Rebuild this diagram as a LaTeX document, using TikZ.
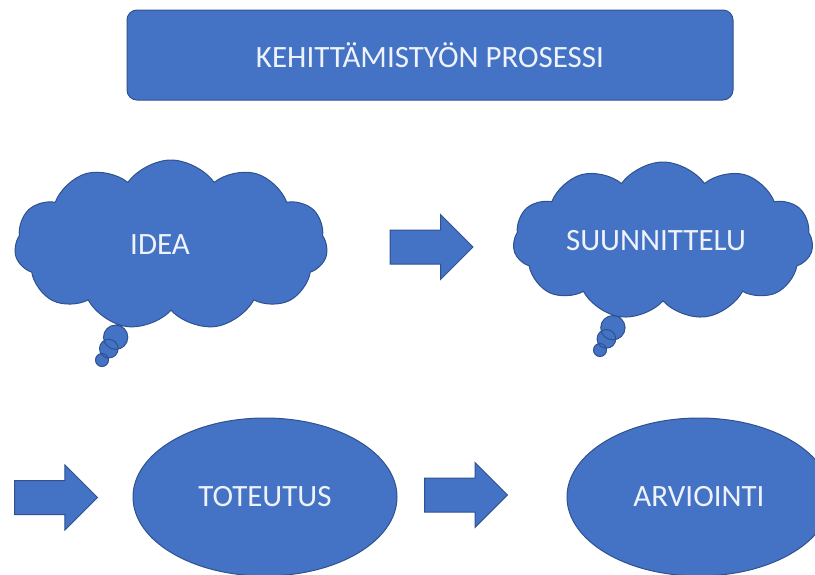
\documentclass[tikz,border=0pt]{standalone}
\usepackage{fontspec}
\setmainfont{Carlito}
\usetikzlibrary{shapes.symbols,shapes.callouts,shapes.arrows,shapes.geometric}
\definecolor{officeblue}{HTML}{4472C4}
\definecolor{officeline}{HTML}{2F528F}
\definecolor{lighttext}{HTML}{EEF3FB}
\tikzset{
  blueshape/.style={fill=officeblue, draw=officeline, line width=1pt, text=lighttext,
    font=\fontsize{31}{36}\selectfont},
  titlebox/.style={blueshape, rectangle, rounded corners=10pt},
  thought/.style={blueshape, cloud callout, cloud puffs=11, cloud puff arc=110,
    cloud ignores aspect, inner sep=0pt,
    callout pointer segments=3, callout pointer start size=30pt,
    callout pointer end size=13pt},
  oval/.style={blueshape, ellipse, inner sep=0pt},
  blockarrow/.style={fill=officeblue, draw=officeline, line width=1pt, single arrow,
    inner xsep=0pt, inner ysep=16.5pt, single arrow head extend=15.5pt,
    single arrow tip angle=90, minimum height=83pt}
}
\begin{document}
\begin{tikzpicture}[x=1pt,y=-1pt]
\useasboundingbox (0,0) rectangle (815,574);
\node[titlebox, minimum width=606pt, minimum height=90pt] (title) at (430,55) {KEHITTÄMISTYÖN PROSESSI};
\node[thought, minimum width=313pt, minimum height=170pt, callout absolute pointer={(102,360)}] (idea) at (171,245) {\hspace*{-22pt}IDEA};
\node[blockarrow] (a1) at (423,247) {};
\node[thought, minimum width=300pt, minimum height=158pt, callout absolute pointer={(600,350)}] (suun) at (663,241) {\hspace*{-14pt}SUUNNITTELU};
\node[blockarrow] (a2) at (47.5,497.5) {};
\node[oval, minimum width=264pt, minimum height=158pt] (tot) at (265,497) {TOTEUTUS};
\node[blockarrow] (a3) at (457.5,495) {};
\node[oval, minimum width=264pt, minimum height=158pt] (arv) at (699,497) {ARVIOINTI};
\end{tikzpicture}
\end{document}
